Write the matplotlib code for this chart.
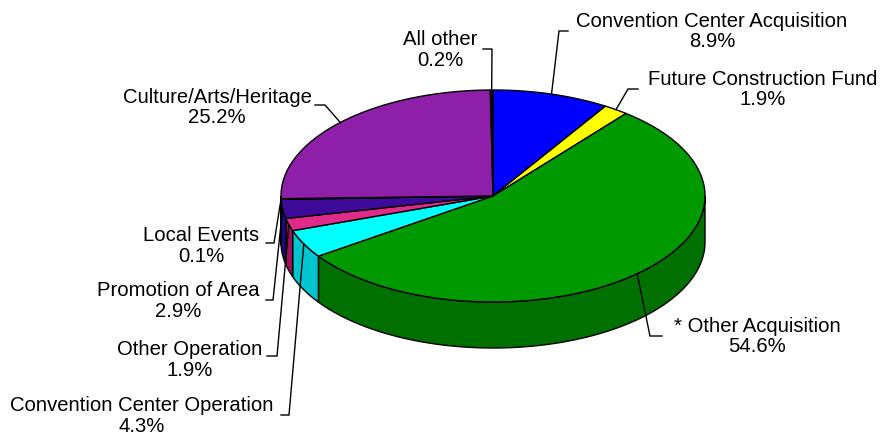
import numpy as np
import matplotlib.pyplot as plt
from matplotlib.patches import Polygon

# slice data, clockwise from 12 o'clock
names = ['Convention Center Acquisition', 'Future Construction Fund', '* Other Acquisition',
         'Convention Center Operation', 'Other Operation', 'Promotion of Area',
         'Local Events', 'Culture/Arts/Heritage', 'All other']
shares = [8.9, 1.9, 54.6, 4.3, 1.9, 2.9, 0.1, 25.2, 0.2]

top_colors = ['#0000FF', '#FFFF00', '#009900', '#00FFFF', '#E02A8A', '#3D0A99',
              '#1A0A8A', '#8E1FA8', '#000000']
wall_colors = ['#0000B0', '#B0B000', '#007000', '#00C4CE', '#A0105A', '#1A0A8A',
               '#10086A', '#60107A', '#000000']

# label centres and leader elbows (pixel coords)
label_xy = [(712, 31.5), (763, 89.5), (757, 336.5), (142, 416), (190, 360),
            (178, 301), (201, 246), (217, 107.5), (440, 50)]
leader_h = [(568, 559, 31), (638, 628, 89), (662, 650, 336), (281, 289, 415),
            (267, 277, 356), (266, 273, 300), (266, 274, 243), (315, 325, 105),
            (483, 492, 49)]

# pie geometry
cx, cy = 493, 196
rx, ry = 212, 106
depth = 46

def pt(phi, dy=0.0):
    r = np.radians(phi)
    return cx + rx * np.sin(r), cy - ry * np.cos(r) + dy

plt.rcParams['font.family'] = ['Liberation Sans', 'DejaVu Sans']
fig = plt.figure(figsize=(8.82, 4.40), dpi=100)
fig.patch.set_facecolor('white')
ax = fig.add_axes([0, 0, 1, 1])
ax.set_xlim(0, 882)
ax.set_ylim(440, 0)
ax.axis('off')

bounds = np.concatenate([[0], np.cumsum(shares)]) / 100.0 * 360.0

# outer walls (front half only)
for i in range(len(shares)):
    lo = max(bounds[i], 90.0)
    hi = min(bounds[i + 1], 270.0)
    if hi <= lo:
        continue
    t = np.linspace(lo, hi, 120)
    xs, ys = pt(t)
    xb, yb = pt(t[::-1], depth)
    poly = np.column_stack([np.concatenate([xs, xb]), np.concatenate([ys, yb])])
    ax.add_patch(Polygon(poly, closed=True, facecolor=wall_colors[i],
                         edgecolor='black', lw=1, joinstyle='miter'))

# top faces
for i in range(len(shares)):
    t = np.linspace(bounds[i], bounds[i + 1], max(int(bounds[i + 1] - bounds[i]) * 3, 4))
    xs, ys = pt(t)
    poly = np.column_stack([np.concatenate([[cx], xs]), np.concatenate([[cy], ys])])
    ax.add_patch(Polygon(poly, closed=True, facecolor=top_colors[i],
                         edgecolor='black', lw=1, joinstyle='miter'))

# labels and leader lines to the slice middle on the rim
for i, name in enumerate(names):
    mid = (bounds[i] + bounds[i + 1]) / 2
    px, py = pt(mid)
    x0, x1, yl = leader_h[i]
    ax.plot([x0, x1, px], [yl, yl, py], color='black', lw=1, solid_joinstyle='miter')
    lx, ly = label_xy[i]
    ax.text(lx, ly, f"{name}\n{shares[i]:.1f}%", ha='center', va='center',
            fontsize=14.6, linespacing=1.12, color='black')

fig.savefig('out.png', dpi=100, facecolor='white')
